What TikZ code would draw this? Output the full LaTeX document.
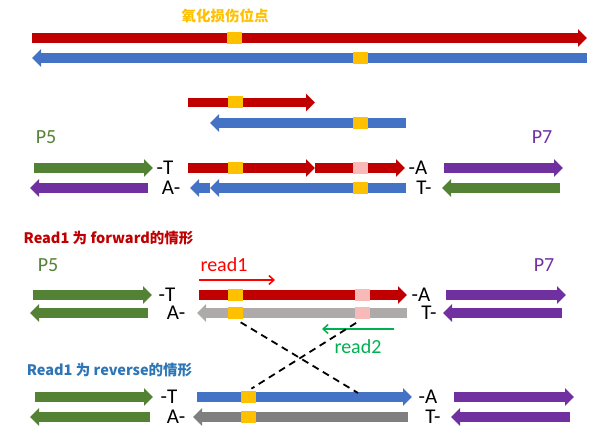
\documentclass[tikz,border=0pt]{standalone}
\usepackage{fontspec}
\setmainfont{Carlito}
\newfontfamily\cjk{Noto Sans CJK SC}
\usetikzlibrary{arrows.meta}

\definecolor{strandred}{HTML}{C00000}
\definecolor{strandblue}{HTML}{4472C4}
\definecolor{damage}{HTML}{FFC000}
\definecolor{repaired}{HTML}{F8B9B9}
\definecolor{pfive}{HTML}{548235}
\definecolor{pseven}{HTML}{7030A0}
\definecolor{palegrey}{HTML}{AEAAAA}
\definecolor{deepgrey}{HTML}{7F7F7F}
\definecolor{readred}{HTML}{FF0000}
\definecolor{readgreen}{HTML}{00B050}
\definecolor{titleblue}{HTML}{2E75B6}

\tikzset{
  strand/.style={line width=9.5pt, -{Triangle[width=17pt,length=9pt]}},
  site/.style={rectangle, fill=damage, minimum width=15pt, minimum height=12pt, inner sep=0pt},
  base/.style={inner sep=0pt, font=\fontsize{21}{21}\selectfont},
  primer/.style={inner sep=0pt, font=\fontsize{20}{20}\selectfont},
  heading/.style={inner sep=0pt, font=\cjk\bfseries\fontsize{14.5}{14.5}\selectfont},
  readarrow/.style={line width=1.5pt, -{Straight Barb[length=5pt,width=9pt]}},
  cut/.style={line width=1.8pt, dash pattern=on 7pt off 5pt}
}

\begin{document}
\begin{tikzpicture}[x=1pt, y=-1pt]
  \useasboundingbox (0,0) rectangle (601,438);

  % damaged duplex
  \node[heading, text=damage] (hdr) at (225,16) {氧化损伤位点};
  \draw[strand, strandred] (32,38) -- (587,38);
  \draw[strand, strandblue] (587,58) -- (32,58);
  \node[site] (s1a) at (234.5,38) {};
  \node[site] (s1b) at (360,58) {};

  % sheared fragment
  \draw[strand, strandred] (188,102.5) -- (315,102.5);
  \draw[strand, strandblue] (406,123) -- (210,123);
  \node[site] (s2a) at (235,102.5) {};
  \node[site] (s2b) at (360,123) {};

  % adapter ligation
  \node[primer, text=pfive] (p5a) at (46,137) {P5};
  \node[primer, text=pseven] (p7a) at (542,137) {P7};
  \draw[strand, pfive] (34,168) -- (153,168);
  \draw[strand, strandred] (188,168) -- (315,168);
  \draw[strand, strandred] (315,168) -- (405,168);
  \draw[strand, pseven] (444,168) -- (563,168);
  \draw[strand, pseven] (148,188) -- (30,188);
  \draw[strand, strandblue] (210,188) -- (190,188);
  \draw[strand, strandblue] (406,188) -- (210,188);
  \draw[strand, pfive] (560,188) -- (442,188);
  \node[site] (s3a) at (235.5,168) {};
  \node[site, fill=repaired] (s3b) at (360,168) {};
  \node[site] (s3c) at (360,188) {};
  \node[base] (t3) at (165,168) {-T};
  \node[base] (a3) at (418,168) {-A};
  \node[base] (a3b) at (171,188) {A-};
  \node[base] (t3b) at (424,188) {T-};

  % read1 forward
  \node[heading, text=strandred] (fwd) at (108.5,238) {Read1 为 forward的情形};
  \node[primer, text=pfive] (p5b) at (48,265) {P5};
  \node[primer, text=pseven] (p7b) at (544,265) {P7};
  \node[primer, text=readred] (r1) at (224,265) {read1};
  \coordinate (r1s) at (199,280);
  \coordinate (r1e) at (275,280);
  \draw[readarrow, readred] (r1s) -- (r1e);
  \draw[strand, pfive] (33,295) -- (152,295);
  \draw[strand, strandred] (199,295) -- (407,295);
  \draw[strand, pseven] (446,295) -- (566,295);
  \draw[strand, pfive] (148,313) -- (30,313);
  \draw[strand, palegrey] (407,313) -- (197,313);
  \draw[strand, pseven] (562,313) -- (443,313);
  \node[site] (s4a) at (235.5,295) {};
  \node[site, fill=repaired] (s4b) at (362,295) {};
  \node[site] (s4c) at (235.5,313) {};
  \node[site, fill=repaired] (s4d) at (362,313) {};
  \node[base] (t4) at (167,295) {-T};
  \node[base] (a4) at (421,295) {-A};
  \node[base] (a4b) at (176,313) {A-};
  \node[base] (t4b) at (429,313) {T-};
  \coordinate (r2s) at (394,329);
  \coordinate (r2e) at (322,329);
  \draw[readarrow, readgreen] (r2s) -- (r2e);
  \node[primer, text=readgreen] (r2) at (358,347) {read2};

  % read1 reverse
  \node[heading, text=titleblue] (rev) at (109.5,370) {Read1 为 reverse的情形};
  \draw[strand, pfive] (35,397) -- (153,397);
  \draw[strand, strandblue] (197,397) -- (412,397);
  \draw[strand, pseven] (454,397) -- (574,397);
  \draw[strand, pfive] (150,417) -- (30,417);
  \draw[strand, deepgrey] (408,417) -- (193,417);
  \draw[strand, pseven] (570,417) -- (451,417);
  \node[site] (s5a) at (248,397) {};
  \node[site] (s5b) at (248,417) {};
  \node[base] (t5) at (169,397) {-T};
  \node[base] (a5) at (428,397) {-A};
  \node[base] (a5b) at (176,417) {A-};
  \node[base] (t5b) at (433,417) {T-};
  \coordinate (b5cut) at (358,393);

  % strand swap
  \draw[cut, shorten <=6pt] (s4c.south) -- (b5cut);
  \draw[cut, shorten <=7pt, shorten >=4pt] (s4d.south) -- (s5a.north);
\end{tikzpicture}
\end{document}
